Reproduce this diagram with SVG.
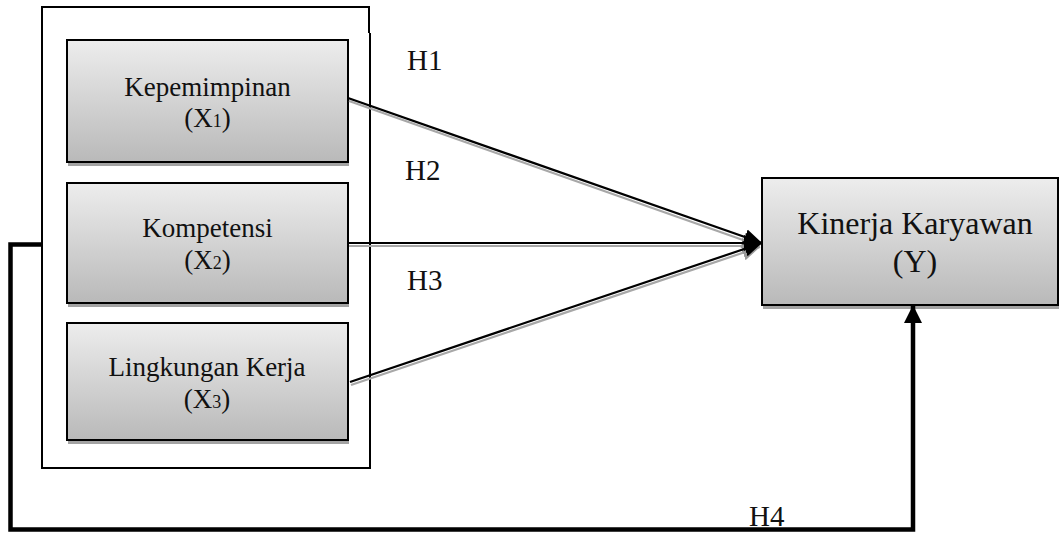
<svg xmlns="http://www.w3.org/2000/svg" width="1060" height="533" viewBox="0 0 1060 533">
  <defs>
    <linearGradient id="boxFill" x1="0" y1="0" x2="0" y2="1">
      <stop offset="0" stop-color="#ededed"/>
      <stop offset="1" stop-color="#b9b9b9"/>
    </linearGradient>
    <marker id="arrow" markerUnits="userSpaceOnUse" markerWidth="20" markerHeight="18" refX="18" refY="9" orient="auto">
      <path d="M0,1 L18,9 L0,17 Z" fill="#000"/>
    </marker>
    <marker id="arrowShadow" markerUnits="userSpaceOnUse" markerWidth="20" markerHeight="18" refX="18" refY="9" orient="auto">
      <path d="M0,1 L18,9 L0,17 Z" fill="#9a9a9a"/>
    </marker>
    <marker id="arrowUp" markerUnits="userSpaceOnUse" markerWidth="20" markerHeight="20" refX="18" refY="9" orient="auto">
      <path d="M0,0 L18,9 L0,18 Z" fill="#000"/>
    </marker>
  </defs>
  <style>
    .shadow { fill: #a3a3a3; }
    .box { fill: url(#boxFill); stroke: #000; stroke-width: 2; }
    .label { font-family: "Liberation Serif", "Times New Roman", serif; fill: #111; text-anchor: middle; }
    .hlabel { font-family: "Liberation Serif", "Times New Roman", serif; fill: #111; font-size: 29px; }
    .line { fill: none; stroke: #000; stroke-width: 2.2; }
    .lineShadow { fill: none; stroke: #a8a8a8; stroke-width: 2.2; }
    .frame { fill: none; stroke: #000; stroke-width: 2; }
  </style>

  <!-- container around the independent variables -->
  <g id="container">
    <path class="frame" d="M369,33 V7 H42 V468 H370 V33"/>
  </g>

  <g id="x1">
    <rect class="shadow" x="68" y="44" width="281" height="122"/>
    <rect class="box" x="67" y="40" width="281" height="122"/>
    <text class="label" x="207.5" y="96" font-size="27">Kepemimpinan</text>
    <text class="label" x="207.5" y="127" font-size="27">(X<tspan font-size="18">1</tspan>)</text>
  </g>

  <g id="x2">
    <rect class="shadow" x="68" y="187" width="281" height="120"/>
    <rect class="box" x="67" y="183" width="281" height="120"/>
    <text class="label" x="207.5" y="237" font-size="27">Kompetensi</text>
    <text class="label" x="207.5" y="269" font-size="27">(X<tspan font-size="18">2</tspan>)</text>
  </g>

  <g id="x3">
    <rect class="shadow" x="68" y="327" width="281" height="117"/>
    <rect class="box" x="67" y="323" width="281" height="117"/>
    <text class="label" x="207" y="376" font-size="27">Lingkungan Kerja</text>
    <text class="label" x="207" y="408" font-size="27">(X<tspan font-size="18">3</tspan>)</text>
  </g>

  <g id="y">
    <rect class="shadow" x="763" y="182" width="296" height="127"/>
    <rect class="box" x="762" y="178" width="296" height="127"/>
    <text class="label" x="915" y="234" font-size="32">Kinerja Karyawan</text>
    <text class="label" x="915" y="272" font-size="32">(Y)</text>
  </g>

  <g id="connectors">
    <!-- soft offset copies under each path -->
    <path class="lineShadow" d="M349,101 L760,246" marker-end="url(#arrowShadow)"/>
    <path class="lineShadow" d="M349,246 L760,246" marker-end="url(#arrowShadow)"/>
    <path class="lineShadow" d="M351,385 L760,247" marker-end="url(#arrowShadow)"/>
    <!-- H1, H2, H3 -->
    <path class="line" d="M348,98 L762,243" marker-end="url(#arrow)"/>
    <path class="line" d="M348,243 L762,243" marker-end="url(#arrow)"/>
    <path class="line" d="M350,382 L762,243" marker-end="url(#arrow)"/>
    <!-- H4 -->
    <path d="M913,330 V309" stroke="#9a9a9a" stroke-width="4" fill="none"/>
    <path d="M42,244.5 H10.5 V529.5 H913 V305" fill="none" stroke="#000" stroke-width="4.5" marker-end="url(#arrowUp)"/>
  </g>

  <g id="hypothesis-labels">
    <text class="hlabel" x="407" y="70">H1</text>
    <text class="hlabel" x="405" y="180">H2</text>
    <text class="hlabel" x="407" y="290">H3</text>
    <text class="hlabel" x="749" y="526" font-size="27">H4</text>
  </g>
</svg>
